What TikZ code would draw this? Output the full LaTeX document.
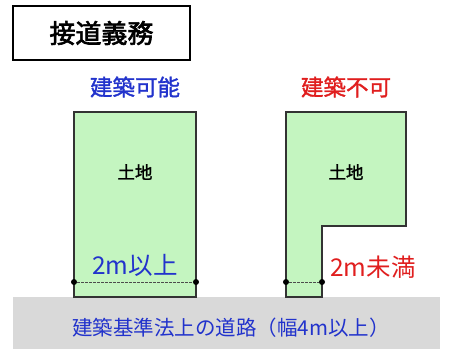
\documentclass[tikz,border=0pt]{standalone}
\usepackage{fontspec}
\setmainfont{Noto Sans CJK JP}
\newfontfamily\jpb{Noto Sans CJK JP}[FakeBold=1.5]
\newfontfamily\jpt{Noto Sans CJK JP}[FakeBold=2.5]
\definecolor{lotgreen}{HTML}{C4F5C0}
\definecolor{okblue}{HTML}{2233CC}
\definecolor{ngred}{HTML}{E01E1E}
\definecolor{roadgray}{HTML}{D9D9D9}
\begin{document}
\begin{tikzpicture}[x=1pt,y=-1pt,
  lot/.style={fill=lotgreen,draw=black!80,line width=1.1pt},
  dot/.style={circle,fill=black,inner sep=0pt,minimum size=6pt},
  gap/.style={black!70,line width=0.7pt,dash pattern=on 2.5pt off 1.5pt},
  lbl/.style={inner sep=0pt}]
\useasboundingbox (0,0) rectangle (474,349);
% road
\fill[roadgray] (13,297) rectangle (440,349);
\node[lbl,text=okblue,font=\fontsize{20.5}{20.5}\selectfont] (road) at (231,328) {建築基準法上の道路（幅4m以上）};
% title
\node[draw=black,line width=1.2pt,minimum width=177pt,minimum height=54pt,inner sep=0pt,
  font=\jpt\fontsize{26}{26}\selectfont] (title) at (101.5,33) {接道義務};
% left lot
\draw[lot] (74,112) rectangle (196,297);
\node[lbl,text=okblue,font=\jpb\fontsize{22.5}{22.5}\selectfont] (okhead) at (135,87) {建築可能};
\node[lbl,font=\jpb\fontsize{17.5}{17.5}\selectfont] (land1) at (135,172) {土地};
\node[lbl,text=okblue,font=\fontsize{24.5}{24.5}\selectfont] (ok2m) at (135,265) {2m以上};
\node[dot] (a1) at (74,282) {};
\node[dot] (a2) at (196,282) {};
\draw[gap] (a1) -- (a2);
% right lot
\draw[lot] (286,112) -- (406,112) -- (406,226) -- (322,226) -- (322,297) -- (286,297) -- cycle;
\node[lbl,text=ngred,font=\jpb\fontsize{22.5}{22.5}\selectfont] (nghead) at (346,87) {建築不可};
\node[lbl,font=\jpb\fontsize{17.5}{17.5}\selectfont] (land2) at (346,172) {土地};
\node[lbl,text=ngred,font=\fontsize{24.5}{24.5}\selectfont] (ng2m) at (373,267) {2m未満};
\node[dot] (b1) at (286,282) {};
\node[dot] (b2) at (322,282) {};
\draw[gap] (b1) -- (b2);
\end{tikzpicture}
\end{document}
